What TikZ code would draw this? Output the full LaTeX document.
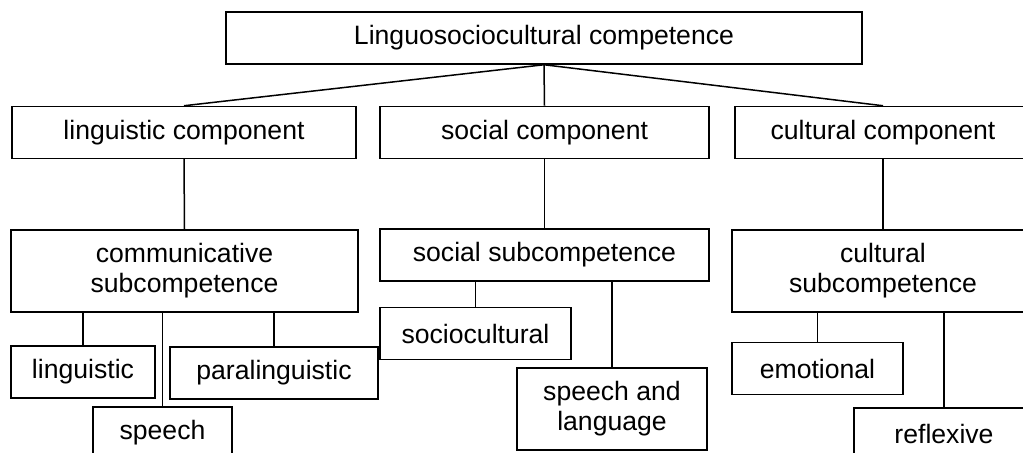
\documentclass[tikz,border=0pt]{standalone}
\usepackage{fontspec}
\setmainfont{Liberation Sans}

\begin{document}
\begin{tikzpicture}[x=0.5pt, y=-0.5pt, line width=0.75pt,
  box/.style={draw, align=center, inner sep=0pt, minimum height=26pt,
    font=\fontsize{13.3}{15}\selectfont},
  tallbox/.style={box, minimum height=41pt}]
  \useasboundingbox (0,0) rectangle (1023,453);
  \clip (0,0) rectangle (1023,453);
  % Root and the three components
  \node[box, minimum width=318pt] (root) at (544,38) {Linguosociocultural competence};
  \node[box, minimum width=172pt] (ling) at (184,132.5) {linguistic component};
  \node[box, minimum width=164.5pt] (soc) at (544.5,132.5) {social component};
  \node[box, minimum width=148pt] (cult) at (883,132.5) {cultural component};
  % Subcompetences
  \node[tallbox, minimum width=173.5pt] (comm) at (184.5,271) {communicative\\subcompetence};
  \node[box, minimum width=164.5pt] (socsub) at (544.5,255) {social subcompetence};
  \node[tallbox, minimum width=151pt] (cultsub) at (883,271) {cultural\\subcompetence};
  % Their parts
  \node[box, minimum width=72pt] (lingu) at (83,372) {linguistic};
  \node[box, minimum width=104pt] (para) at (274,373) {paralinguistic};
  \node[box, minimum width=69.5pt] (speech) at (162.5,433) {speech};
  \node[box, minimum width=95.5pt] (sociocult) at (475.5,333.5) {sociocultural};
  \node[tallbox, minimum width=95pt] (speechlang) at (612,409) {speech and\\language};
  \node[box, minimum width=85.5pt] (emot) at (817.5,368.5) {emotional};
  \node[box, minimum width=90pt] (refl) at (944,434) {reflexive};
  % Connectors
  \draw (root.south) -- (ling.north);
  \draw (root.south) -- (soc.north);
  \draw (root.south) -- (cult.north);
  \draw (ling.south) -- (comm.north);
  \draw (soc.south) -- (socsub.north);
  \draw (cult.south) -- (cultsub.north);
  \draw (lingu.north) -- (lingu.north |- comm.south);
  \draw (para.north) -- (para.north |- comm.south);
  \draw (speech.north) -- (speech.north |- comm.south);
  \draw (sociocult.north) -- (sociocult.north |- socsub.south);
  \draw (speechlang.north) -- (speechlang.north |- socsub.south);
  \draw (emot.north) -- (emot.north |- cultsub.south);
  \draw (refl.north) -- (refl.north |- cultsub.south);
\end{tikzpicture}
\end{document}
